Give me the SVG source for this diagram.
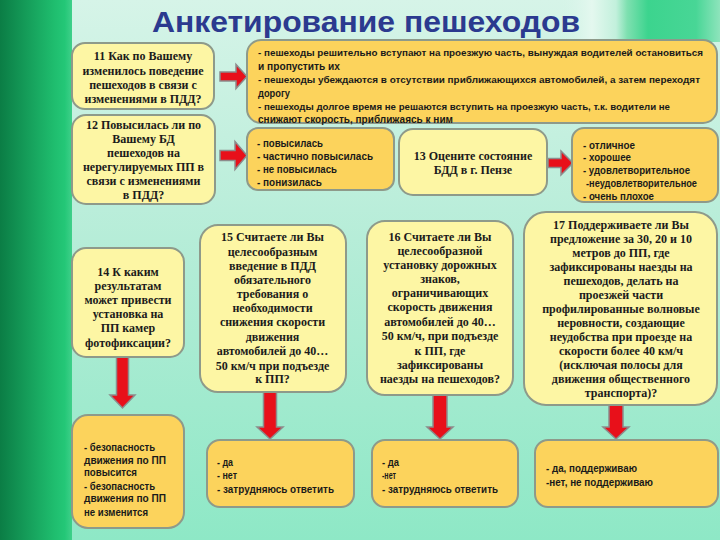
<svg xmlns="http://www.w3.org/2000/svg" width="720" height="540" viewBox="0 0 720 540">
<defs>
<linearGradient id="bg" x1="0" y1="0" x2="0" y2="1">
<stop offset="0" stop-color="#d6f4e8"/>
<stop offset="0.5" stop-color="#b2ecd6"/>
<stop offset="1" stop-color="#8ee8c6"/>
</linearGradient>
<linearGradient id="side" x1="0" y1="0" x2="1" y2="0">
<stop offset="0" stop-color="#0b7d45"/>
<stop offset="0.75" stop-color="#1fbd6e"/>
<stop offset="0.9" stop-color="#24c777"/>
<stop offset="1" stop-color="#3fd08a"/>
</linearGradient>
<linearGradient id="deco" x1="0" y1="0" x2="1" y2="0">
<stop offset="0" stop-color="#d6f4e8" stop-opacity="0"/>
<stop offset="0.2" stop-color="#e4f8ef"/>
<stop offset="0.35" stop-color="#c2f0dc"/>
<stop offset="0.42" stop-color="#7ee0b0"/>
<stop offset="0.55" stop-color="#3cd48e"/>
<stop offset="0.85" stop-color="#48d696"/>
<stop offset="1" stop-color="#8ee4bc"/>
</linearGradient>
</defs>
<style>
.qb{fill:#fdf6a4;stroke:#8e9a8a;stroke-width:2}
.ab{fill:#fcd35c;stroke:#8e9a8a;stroke-width:2}
.q{font-family:"Liberation Serif",serif;font-weight:bold;font-size:12px;text-anchor:middle;fill:#1b1b1b}
.a{font-family:"Liberation Sans",sans-serif;font-weight:bold;font-size:10.5px;fill:#1a1a1a}
.s{font-size:9.5px}
.arr{fill:#e8101a;stroke:#8c8c8c;stroke-width:1.5;stroke-linejoin:miter}
.title{font-family:"Liberation Sans",sans-serif;font-weight:bold;font-size:30px;fill:#2b3a8f}
</style>
<rect x="0" y="0" width="720" height="540" fill="url(#bg)"/>
<rect x="560" y="0" width="160" height="42" fill="url(#deco)"/>
<rect x="0" y="0" width="72" height="540" fill="url(#side)"/>
<text class="title" x="152" y="32" textLength="428" lengthAdjust="spacingAndGlyphs">Анкетирование пешеходов</text>

<g id="connectors">
<polygon class="arr" points="220,72 236,72 236,64.5 247,76.5 236,88.5 236,81 220,81"/>
<polygon class="arr" points="220,150.5 235,150.5 235,141.5 247,155.5 235,169.5 235,160.5 220,160.5"/>
<polygon class="arr" points="548,158.5 561,158.5 561,151 573,163 561,175 561,167.5 548,167.5"/>
<polygon class="arr" points="116.5,357 128.5,357 128.5,395 135,395 122.5,408 110,395 116.5,395"/>
<polygon class="arr" points="263.5,392 276.5,392 276.5,427 283,427 270,439 257,427 263.5,427"/>
<polygon class="arr" points="433,395 447,395 447,427 453,427 440,439 427,427 433,427"/>
<polygon class="arr" points="609,405 623,405 623,427 629,427 616,439 603,427 609,427"/>
</g>

<g id="q11">
<rect class="qb" x="72" y="43" width="142" height="66" rx="13"/>
<text class="q" x="143" y="60">11 Как по Вашему</text>
<text class="q" x="143" y="75">изменилось поведение</text>
<text class="q" x="143" y="89">пешеходов в связи с</text>
<text class="q" x="143" y="103">изменениями в ПДД?</text>
</g>

<g id="a11">
<rect class="ab" x="247" y="40" width="470" height="83" rx="14"/>
<text class="a s" x="258" y="55.5" textLength="445" lengthAdjust="spacingAndGlyphs">- пешеходы решительно вступают на проезжую часть, вынуждая водителей остановиться</text>
<text class="a" x="258" y="69.5" textLength="82" lengthAdjust="spacingAndGlyphs">и пропустить их</text>
<text class="a s" x="258" y="83" textLength="442" lengthAdjust="spacingAndGlyphs">- пешеходы убеждаются в отсутствии приближающихся автомобилей, а затем переходят</text>
<text class="a" x="258" y="96.5" textLength="32" lengthAdjust="spacingAndGlyphs">дорогу</text>
<text class="a s" x="258" y="110" textLength="412" lengthAdjust="spacingAndGlyphs">- пешеходы долгое время не решаются вступить на проезжую часть, т.к. водители не</text>
<text class="a" x="258" y="122.5" textLength="195" lengthAdjust="spacingAndGlyphs">снижают скорость, приближаясь к ним</text>
</g>

<g id="q12">
<rect class="qb" x="72" y="115" width="143" height="89" rx="14"/>
<text class="q" x="143.5" y="129">12 Повысилась ли по</text>
<text class="q" x="143.5" y="143">Вашему БД</text>
<text class="q" x="143.5" y="157">пешеходов на</text>
<text class="q" x="143.5" y="171">нерегулируемых ПП в</text>
<text class="q" x="143.5" y="185">связи с изменениями</text>
<text class="q" x="143.5" y="199">в ПДД?</text>
</g>

<g id="a12">
<rect class="ab" x="247" y="128" width="147" height="62" rx="11"/>
<text class="a" x="257" y="147" textLength="66" lengthAdjust="spacingAndGlyphs">- повысилась</text>
<text class="a" x="257" y="159.5" textLength="116" lengthAdjust="spacingAndGlyphs">- частично повысилась</text>
<text class="a" x="257" y="172.5" textLength="80" lengthAdjust="spacingAndGlyphs">- не повысилась</text>
<text class="a" x="257" y="186" textLength="65" lengthAdjust="spacingAndGlyphs">- понизилась</text>
</g>

<g id="q13">
<rect class="qb" x="399" y="129" width="148" height="66" rx="14"/>
<text class="q" x="473" y="160">13 Оцените состояние</text>
<text class="q" x="473" y="174">БДД в г. Пензе</text>
</g>

<g id="a13">
<rect class="ab" x="572" y="128" width="146" height="74" rx="12"/>
<text class="a" x="583" y="148.5" textLength="52" lengthAdjust="spacingAndGlyphs">- отличное</text>
<text class="a" x="583" y="160.5" textLength="48" lengthAdjust="spacingAndGlyphs">- хорошее</text>
<text class="a" x="583" y="173.5" textLength="107" lengthAdjust="spacingAndGlyphs">- удовлетворительное</text>
<text class="a" x="586" y="186.5" textLength="111" lengthAdjust="spacingAndGlyphs">-неудовлетворительное</text>
<text class="a" x="583" y="199.5" textLength="71" lengthAdjust="spacingAndGlyphs">- очень плохое</text>
</g>

<g id="q14">
<rect class="qb" x="72" y="248" width="112" height="109" rx="14"/>
<text class="q" x="128" y="276">14 К каким</text>
<text class="q" x="128" y="290">результатам</text>
<text class="q" x="128" y="304">может привести</text>
<text class="q" x="128" y="318">установка на</text>
<text class="q" x="128" y="332">ПП камер</text>
<text class="q" x="128" y="347">фотофиксации?</text>
</g>

<g id="q15">
<rect class="qb" x="200" y="225" width="146" height="167" rx="18"/>
<text class="q" x="272.5" y="241">15 Считаете ли Вы</text>
<text class="q" x="272.5" y="255.5">целесообразным</text>
<text class="q" x="272.5" y="269.5">введение в ПДД</text>
<text class="q" x="272.5" y="283.5">обязательного</text>
<text class="q" x="272.5" y="298">требования о</text>
<text class="q" x="272.5" y="312">необходимости</text>
<text class="q" x="272.5" y="326">снижения скорости</text>
<text class="q" x="272.5" y="340.5">движения</text>
<text class="q" x="272.5" y="355">автомобилей до 40…</text>
<text class="q" x="272.5" y="369.5">50 км/ч при подъезде</text>
<text class="q" x="272.5" y="383">к ПП?</text>
</g>

<g id="q16">
<rect class="qb" x="367" y="221" width="146" height="174" rx="18"/>
<text class="q" x="440" y="241">16 Считаете ли Вы</text>
<text class="q" x="440" y="255">целесообразной</text>
<text class="q" x="440" y="269">установку дорожных</text>
<text class="q" x="440" y="283">знаков,</text>
<text class="q" x="440" y="297">ограничивающих</text>
<text class="q" x="440" y="311">скорость движения</text>
<text class="q" x="440" y="326">автомобилей до 40…</text>
<text class="q" x="440" y="340">50 км/ч, при подъезде</text>
<text class="q" x="440" y="355">к ПП, где</text>
<text class="q" x="440" y="369">зафиксированы</text>
<text class="q" x="440" y="383">наезды на пешеходов?</text>
</g>

<g id="q17">
<rect class="qb" x="524" y="212" width="193" height="193" rx="22"/>
<text class="q" x="621" y="229">17 Поддерживаете ли Вы</text>
<text class="q" x="621" y="243">предложение за 30, 20 и 10</text>
<text class="q" x="621" y="257">метров до ПП, где</text>
<text class="q" x="621" y="271">зафиксированы наезды на</text>
<text class="q" x="621" y="285">пешеходов, делать на</text>
<text class="q" x="621" y="299">проезжей части</text>
<text class="q" x="621" y="313">профилированные волновые</text>
<text class="q" x="621" y="327">неровности, создающие</text>
<text class="q" x="621" y="341">неудобства при проезде на</text>
<text class="q" x="621" y="355">скорости более 40 км/ч</text>
<text class="q" x="621" y="369">(исключая полосы для</text>
<text class="q" x="621" y="383">движения общественного</text>
<text class="q" x="621" y="397">транспорта)?</text>
</g>

<g id="a14">
<rect class="ab" x="72" y="415" width="112" height="113" rx="16"/>
<text class="a" x="84" y="450.5" textLength="71" lengthAdjust="spacingAndGlyphs">- безопасность</text>
<text class="a" x="84" y="463.5" textLength="82" lengthAdjust="spacingAndGlyphs">движения по ПП</text>
<text class="a" x="84" y="476" textLength="53" lengthAdjust="spacingAndGlyphs">повысится</text>
<text class="a" x="84" y="489.5" textLength="71" lengthAdjust="spacingAndGlyphs">- безопасность</text>
<text class="a" x="84" y="502" textLength="82" lengthAdjust="spacingAndGlyphs">движения по ПП</text>
<text class="a" x="84" y="515.5" textLength="64" lengthAdjust="spacingAndGlyphs">не изменится</text>
</g>

<g id="a15">
<rect class="ab" x="207" y="440" width="147" height="67" rx="13"/>
<text class="a" x="217" y="465.5" textLength="16" lengthAdjust="spacingAndGlyphs">- да</text>
<text class="a" x="217" y="478.5" textLength="20" lengthAdjust="spacingAndGlyphs">- нет</text>
<text class="a" x="217" y="492.5" textLength="117" lengthAdjust="spacingAndGlyphs">- затрудняюсь ответить</text>
</g>

<g id="a16">
<rect class="ab" x="372" y="440" width="146" height="67" rx="13"/>
<text class="a" x="382" y="465.5" textLength="17" lengthAdjust="spacingAndGlyphs">- да</text>
<text class="a" x="382" y="479" textLength="14" lengthAdjust="spacingAndGlyphs">-нет</text>
<text class="a" x="382" y="492.5" textLength="116" lengthAdjust="spacingAndGlyphs">- затрудняюсь ответить</text>
</g>

<g id="a17">
<rect class="ab" x="535" y="440" width="183" height="67" rx="13"/>
<text class="a" x="546" y="471.5" textLength="91" lengthAdjust="spacingAndGlyphs">- да, поддерживаю</text>
<text class="a" x="546" y="485.5" textLength="107" lengthAdjust="spacingAndGlyphs">-нет, не поддерживаю</text>
</g>
</svg>
